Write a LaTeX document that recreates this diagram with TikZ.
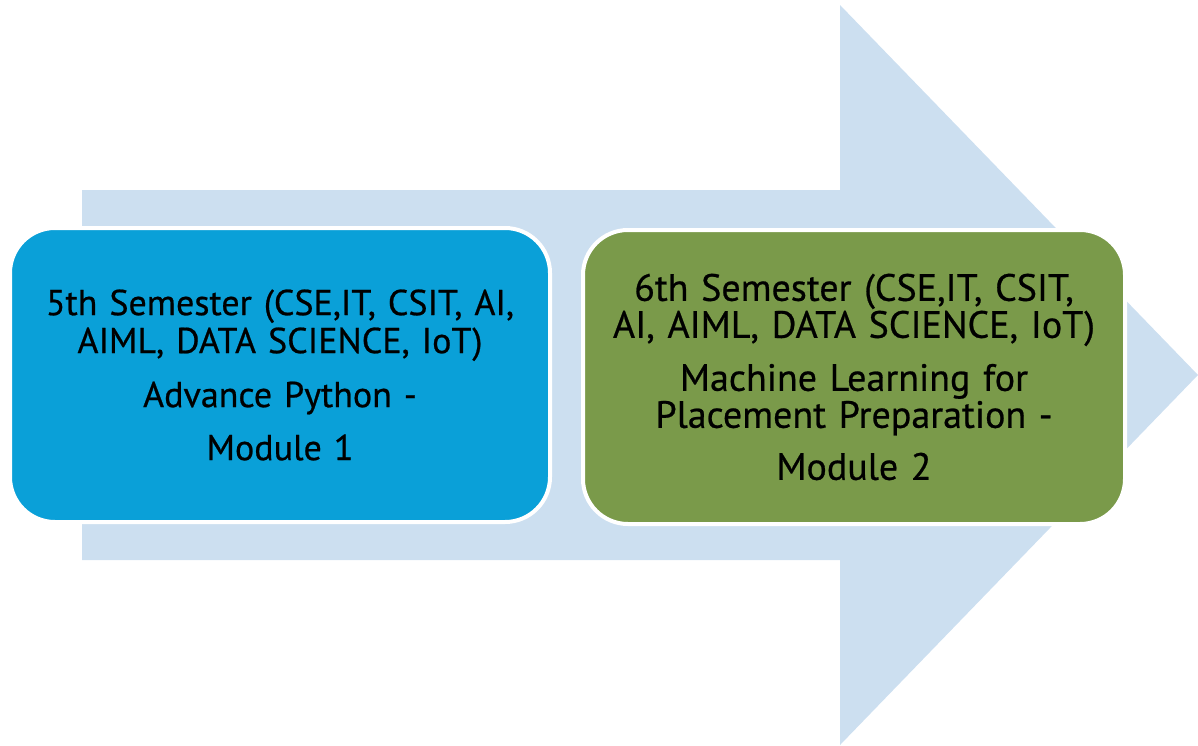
\documentclass[tikz,border=0pt]{standalone}
\usepackage{fontspec}
\setmainfont{PT Sans}[FakeBold=0.6]
\definecolor{arrowblue}{RGB}{204,223,240}
\definecolor{boxblue}{RGB}{10,160,216}
\definecolor{boxgreen}{RGB}{122,154,74}
\begin{document}
\begin{tikzpicture}[x=1pt,y=-1pt,
  stagebox/.style={rectangle, rounded corners=45pt, draw=white, line width=4pt,
    minimum height=294pt, align=center, text=black, inner sep=0pt}]
\useasboundingbox (0,0) rectangle (1198,745);
\fill[arrowblue] (82,190) -- (840,190) -- (840,5) -- (1198,375) -- (840,745) -- (840,560) -- (82,560) -- cycle;
\node[stagebox, fill=boxblue, minimum width=540pt, text width=530pt,
  font=\fontsize{36}{38}\selectfont] (m1) at (280,375)
  {5th Semester (CSE,IT, CSIT, AI,\\ AIML, DATA SCIENCE, IoT)\\[16pt]
   Advance Python -\\[15pt] Module 1};
\node[stagebox, fill=boxgreen, minimum width=542pt, text width=530pt,
  font=\fontsize{38}{37}\selectfont] (m2) at (854,377)
  {6th Semester (CSE,IT, CSIT,\\ AI, AIML, DATA SCIENCE, IoT)\\[16pt]
   Machine Learning for\\ Placement Preparation -\\[15pt] Module 2};
\end{tikzpicture}
\end{document}
